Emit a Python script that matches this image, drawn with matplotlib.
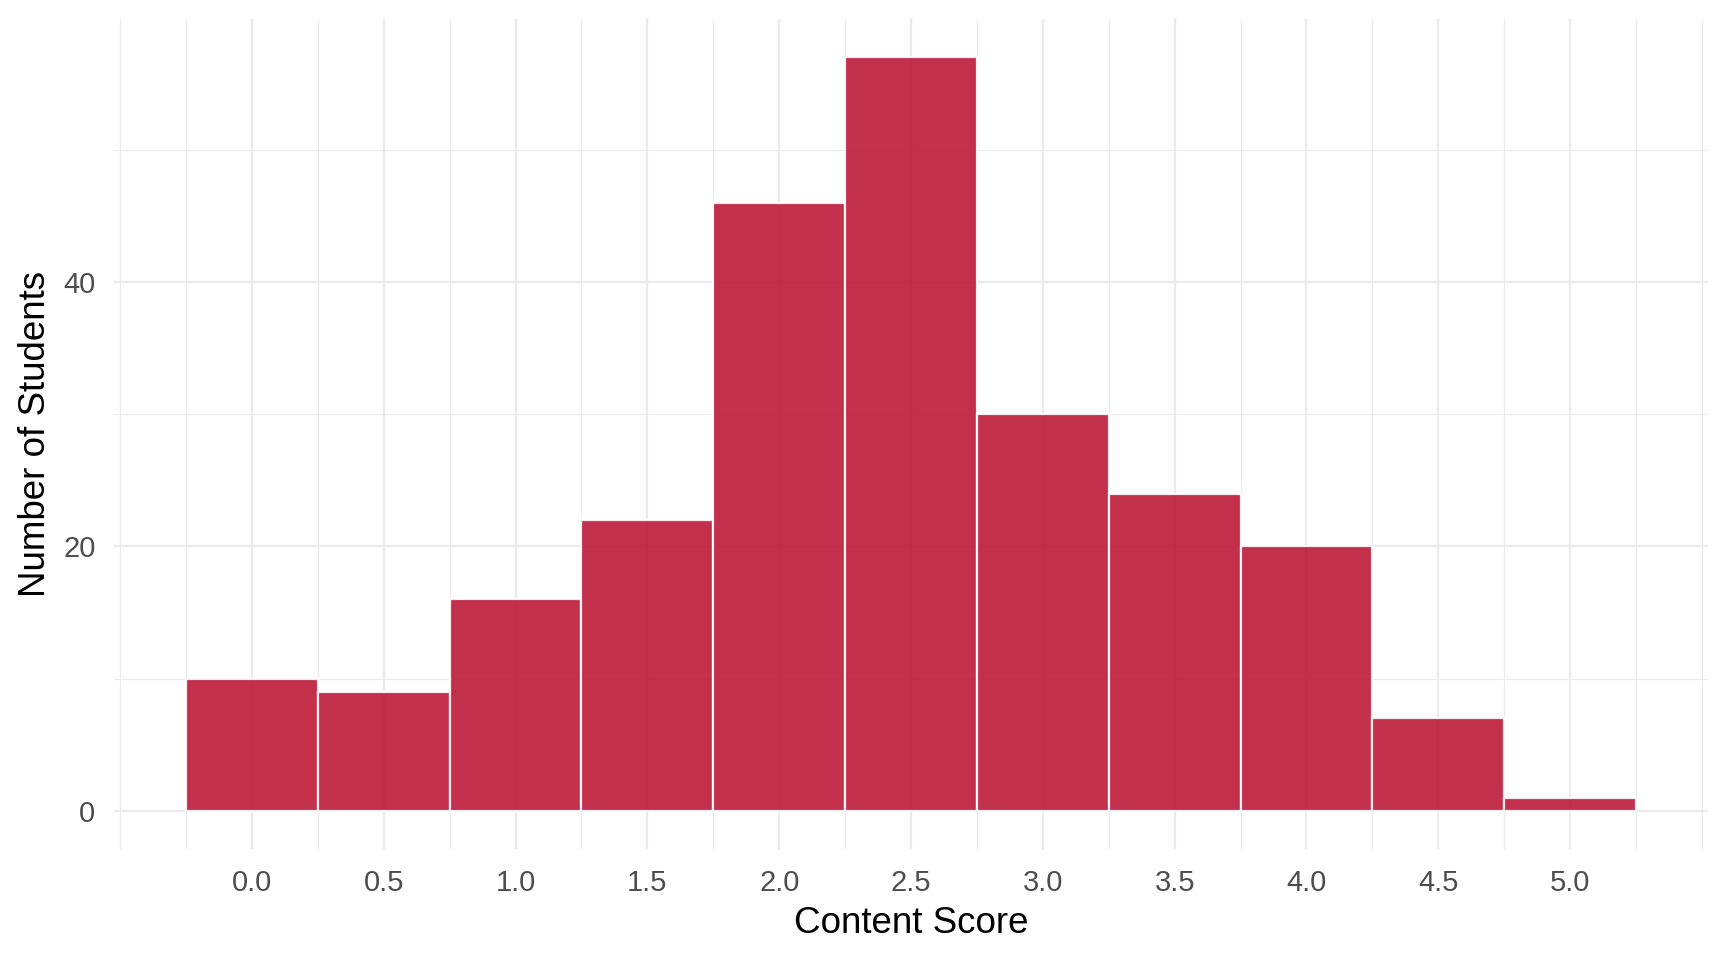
import matplotlib
matplotlib.use("Agg")
import matplotlib.pyplot as plt
import numpy as np

# histogram of content scores (bin centers, width 0.5)
bin_centers = [0.0, 0.5, 1.0, 1.5, 2.0, 2.5, 3.0, 3.5, 4.0, 4.5, 5.0]
counts = [10, 9, 16, 22, 46, 57, 30, 24, 20, 7, 1]
bin_width = 0.5

x_major = [0.0, 0.5, 1.0, 1.5, 2.0, 2.5, 3.0, 3.5, 4.0, 4.5, 5.0]
x_minor = [-0.5, -0.25, 0.25, 0.75, 1.25, 1.75, 2.25, 2.75, 3.25, 3.75, 4.25, 4.75, 5.25, 5.5]
y_major = [0, 20, 40]
y_minor = [10, 30, 50]

plt.rcParams['font.family'] = ['Liberation Sans', 'DejaVu Sans']

fig = plt.figure(figsize=(17.28, 9.6), dpi=100)
ax = fig.add_axes([0.0657, 0.116, 0.923, 0.8637])

grid_col = '#EBEBEB'
for v in x_minor:
    ax.axvline(v, color=grid_col, lw=0.8, zorder=0)
for v in y_minor:
    ax.axhline(v, color=grid_col, lw=0.8, zorder=0)
for v in x_major:
    ax.axvline(v, color=grid_col, lw=1.6, zorder=0)
for v in y_major:
    ax.axhline(v, color=grid_col, lw=1.6, zorder=0)

ax.bar(bin_centers, counts, width=bin_width, color='#BD1938', alpha=0.9,
       edgecolor='white', linewidth=1.6, zorder=2)

# ggplot-like expansion (5% of data range)
lo, hi = bin_centers[0] - bin_width / 2, bin_centers[-1] + bin_width / 2
ax.set_xlim(lo - 0.05 * (hi - lo), hi + 0.05 * (hi - lo))
ymax = max(counts)
ax.set_ylim(-0.05 * ymax, ymax * 1.05)

ax.set_xticks(x_major)
ax.set_xticklabels([f'{v:.1f}' for v in x_major])
ax.set_yticks(y_major)
ax.tick_params(length=0, labelsize=21, labelcolor='#4D4D4D')
ax.tick_params(axis='x', pad=15)
ax.tick_params(axis='y', pad=13)
for s in ax.spines.values():
    s.set_visible(False)

ax.set_xlabel('Content Score', fontsize=26.5, color='black', labelpad=6)
ax.set_ylabel('Number of Students', fontsize=26.5, color='black', labelpad=7)

fig.savefig('out.png', dpi=100, facecolor='white')
